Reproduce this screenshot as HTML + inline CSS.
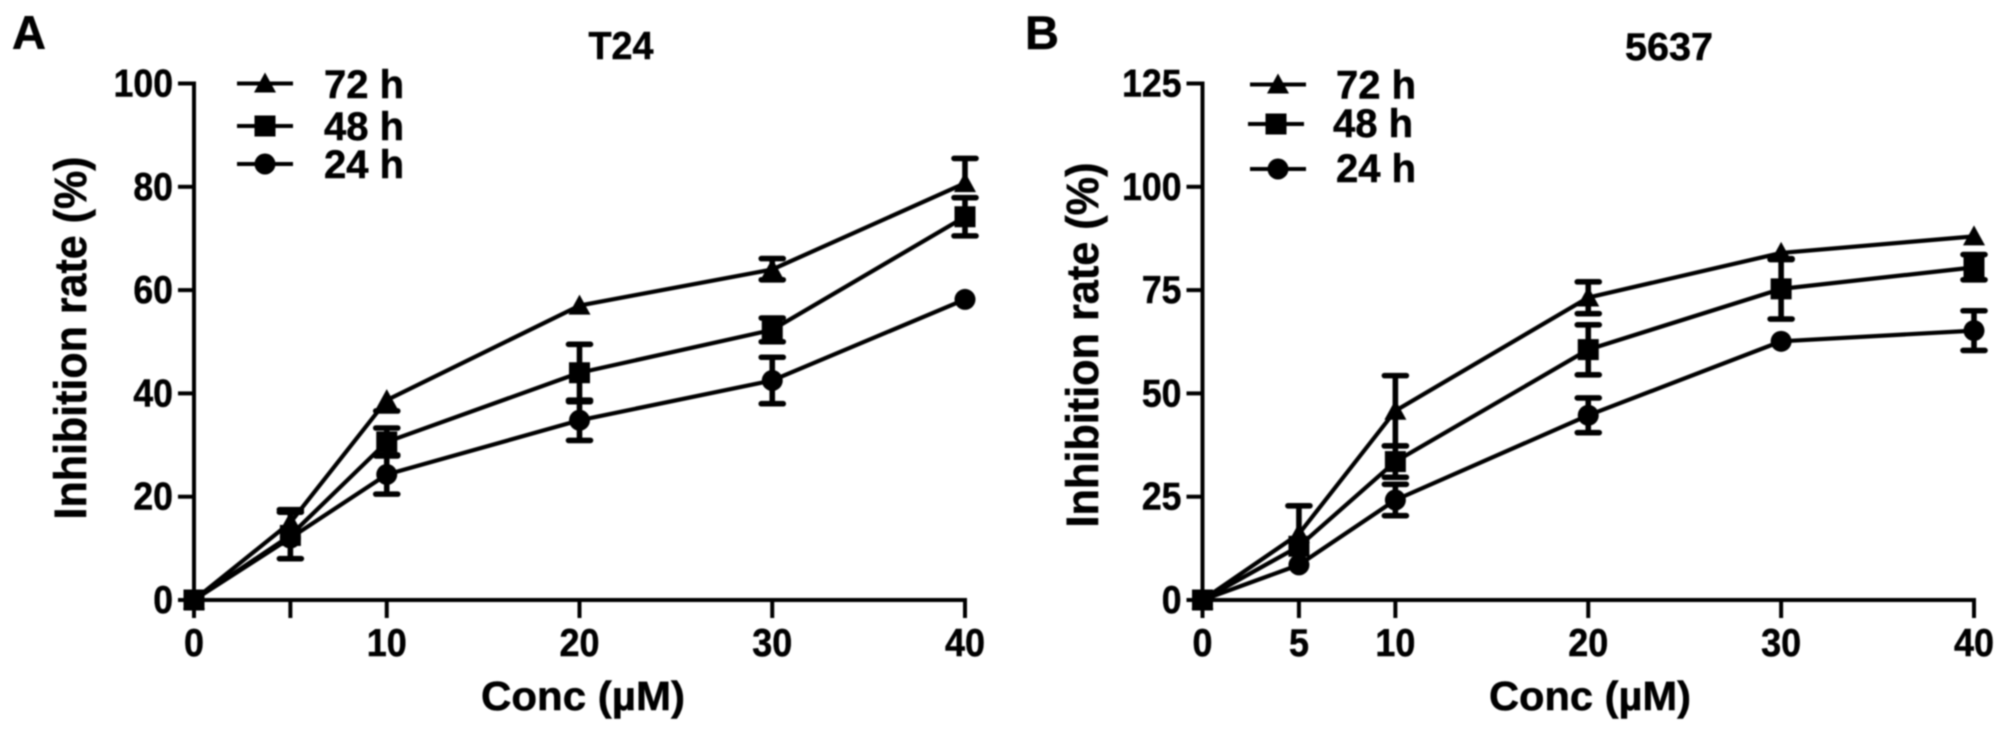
<!DOCTYPE html>
<html lang="en">
<head>
<meta charset="utf-8">
<title>Inhibition rate charts: T24 and 5637</title>
<style>
html,body{margin:0;padding:0;background:#fff;}
svg{display:block;}
text{font-family:"Liberation Sans",Arial,sans-serif;font-weight:700;fill:#000;stroke:#000;stroke-width:0.5px;}
</style>
</head>
<body>
<svg id="figure" xmlns="http://www.w3.org/2000/svg" width="2008" height="735" viewBox="0 0 2008 735">
<defs><filter id="soft" x="-2%" y="-2%" width="104%" height="104%"><feGaussianBlur stdDeviation="0.7"/></filter></defs>
<rect width="2008" height="735" fill="#fff"/>
<g id="root" filter="url(#soft)">
<text x="12" y="49" font-size="47">A</text>
<text x="1025" y="49" font-size="47">B</text>
<text x="621" y="59" font-size="39" text-anchor="middle" textLength="65" lengthAdjust="spacingAndGlyphs">T24</text>
<text x="1669" y="60" font-size="39" text-anchor="middle" textLength="88" lengthAdjust="spacingAndGlyphs">5637</text>
<text x="583" y="710" font-size="41" text-anchor="middle" textLength="204" lengthAdjust="spacingAndGlyphs">Conc (µM)</text>
<text x="1590" y="710" font-size="41" text-anchor="middle" textLength="202" lengthAdjust="spacingAndGlyphs">Conc (µM)</text>
<text transform="translate(86 338) rotate(-90)" font-size="45" text-anchor="middle" textLength="363" lengthAdjust="spacingAndGlyphs">Inhibition rate (%)</text>
<text transform="translate(1098 345) rotate(-90)" font-size="45" text-anchor="middle" textLength="365" lengthAdjust="spacingAndGlyphs">Inhibition rate (%)</text>
</g>
</svg>
<script>
const concentrations = [0, 5, 10, 20, 30, 40];
const seriesLabels = ['72 h', '48 h', '24 h'];
const seriesMarkers = ['triangle', 'square', 'circle'];

const xTicksA = [0, 5, 10, 20, 30, 40];
const xTickLabelsA = ['0', '', '10', '20', '30', '40'];
const yTicksA = [0, 20, 40, 60, 80, 100];
const t24Rate72 = [0, 15, 38.7, 57, 64, 80.7];
const t24ErrUp72 = [0, 2.5, 0, 0, 2.1, 4.8];
const t24ErrDown72 = [0, 0, 2.1, 0, 2, 0];
const t24Rate48 = [0, 12.5, 30.6, 44, 52.3, 74.2];
const t24ErrUp48 = [0, 4.5, 2.7, 5.5, 2.3, 3.7];
const t24ErrDown48 = [0, 4.5, 2.7, 5.6, 2.3, 3.7];
const t24Rate24 = [0, 12, 24.3, 34.8, 42.5, 58.2];
const t24ErrUp24 = [0, 0, 3.8, 3.9, 4.5, 0];
const t24ErrDown24 = [0, 0, 3.8, 3.9, 4.5, 0];

const xTicksB = [0, 5, 10, 20, 30, 40];
const xTickLabelsB = ['0', '5', '10', '20', '30', '40'];
const yTicksB = [0, 25, 50, 75, 100, 125];
const t5637Rate72 = [0, 16, 45.8, 73.2, 84, 88];
const t5637ErrUp72 = [0, 6.8, 8.5, 3.8, 0, 0];
const t5637ErrDown72 = [0, 0, 8.5, 3.9, 1.6, 0];
const t5637Rate48 = [0, 13, 33.5, 60.6, 75.3, 80.5];
const t5637ErrUp48 = [0, 0, 3.8, 6, 7.3, 3.1];
const t5637ErrDown48 = [0, 0, 3.8, 6.1, 7.3, 3];
const t5637Rate24 = [0, 8.5, 24.2, 44.7, 62.6, 65.2];
const t5637ErrUp24 = [0, 0, 3.8, 4.2, 0, 4.8];
const t5637ErrDown24 = [0, 0, 3.8, 4.2, 0, 4.8];

const NS = 'http://www.w3.org/2000/svg';
const root = document.getElementById('root');

function make(tag, parent, attrs) {
  const el = document.createElementNS(NS, tag);
  for (const k in attrs) el.setAttribute(k, attrs[k]);
  parent.appendChild(el);
  return el;
}

function seg(parent, x1, y1, x2, y2, w) {
  return make('line', parent, {x1: x1, y1: y1, x2: x2, y2: y2, stroke: '#000', 'stroke-width': w});
}

function drawMarker(parent, kind, x, y) {
  let m;
  if (kind === 'triangle') {
    m = make('polygon', parent, {points: (x - 11) + ',' + (y + 9) + ' ' + x + ',' + (y - 11) + ' ' + (x + 11) + ',' + (y + 9), fill: '#000'});
  } else if (kind === 'square') {
    m = make('rect', parent, {x: x - 10.5, y: y - 10.5, width: 21, height: 21, fill: '#000'});
  } else {
    m = make('circle', parent, {cx: x, cy: y, r: 10.5, fill: '#000'});
  }
  
  
}

function drawPanel(p) {
  const sx = v => p.x0 + (v / p.xMax) * (p.x1 - p.x0);
  const sy = v => p.y0 - (v / p.yMax) * (p.y0 - p.y1);

  const axes = make('g', root, {});
  
  
  seg(axes, p.x0, p.y1 - 2, p.x0, p.y0 + 2, 4);
  seg(axes, p.x0 - 2, p.y0, p.x1 + 2, p.y0, 4);

  p.yTicks.forEach(function (v) {
    const t = seg(axes, p.x0 - 16, sy(v), p.x0, sy(v), 4);
    
    
    const text = String(v);
    const label = make('text', axes, {x: p.x0 - 21, y: sy(v) + 13, 'font-size': 39, 'text-anchor': 'end', textLength: text.length * 19.8, lengthAdjust: 'spacingAndGlyphs'});
    
    
    label.textContent = text;
  });
  p.xTicks.forEach(function (v, i) {
    const t = seg(axes, sx(v), p.y0, sx(v), p.y0 + 18, 4);
    
    
    const text = p.xTickLabels[i];
    if (!text) return;
    const label = make('text', axes, {x: sx(v), y: 656, 'font-size': 39, 'text-anchor': 'middle', textLength: text.length * 20, lengthAdjust: 'spacingAndGlyphs'});
    
    
    label.textContent = text;
  });

  p.series.forEach(function (s, si) {
    const g = make('g', root, {});
    
    
    const pts = s.rate.map((r, i) => sx(concentrations[i]) + ',' + sy(r)).join(' ');
    const line = make('polyline', g, {points: pts, fill: 'none', stroke: '#000', 'stroke-width': 4.2, 'stroke-linejoin': 'round'});
    
    
    s.rate.forEach(function (r, i) {
      const x = sx(concentrations[i]);
      let d = '';
      if (s.up[i] > 0) {
        const hi = sy(r + s.up[i]);
        d += 'M' + x + ' ' + sy(r) + 'V' + hi + 'M' + (x - 11) + ' ' + hi + 'H' + (x + 11);
      }
      if (s.down[i] > 0) {
        const lo = sy(r - s.down[i]);
        d += 'M' + x + ' ' + sy(r) + 'V' + lo + 'M' + (x - 11) + ' ' + lo + 'H' + (x + 11);
      }
      if (d) {
        const bar = make('path', g, {d: d, fill: 'none', stroke: '#000', 'stroke-width': 5.6, 'stroke-linecap': 'round'});
        
        
      }
      drawMarker(g, seriesMarkers[si], x, sy(r));
    });
  });

  p.legend.forEach(function (row, i) {
    const g = make('g', root, {});
    
    
    seg(g, row.x1, row.lineY, row.x2, row.lineY, 4);
    drawMarker(g, seriesMarkers[i], (row.x1 + row.x2) / 2, row.lineY);
    const label = make('text', g, {x: row.tx, y: row.baseY, 'font-size': 40, textLength: 80, lengthAdjust: 'spacingAndGlyphs'});
    
    
    label.textContent = seriesLabels[i];
  });
}

drawPanel({
  id: 't24', x0: 194, x1: 965, y0: 600, y1: 83.5, xMax: 40, yMax: 100,
  xTicks: xTicksA, xTickLabels: xTickLabelsA, yTicks: yTicksA,
  series: [
    {rate: t24Rate72, up: t24ErrUp72, down: t24ErrDown72},
    {rate: t24Rate48, up: t24ErrUp48, down: t24ErrDown48},
    {rate: t24Rate24, up: t24ErrUp24, down: t24ErrDown24}
  ],
  legend: [
    {x1: 237, x2: 293, lineY: 83.5, tx: 324, baseY: 98},
    {x1: 237, x2: 293, lineY: 126, tx: 324, baseY: 140},
    {x1: 237, x2: 293, lineY: 164, tx: 324, baseY: 178}
  ]
});

drawPanel({
  id: '5637', x0: 1202.5, x1: 1974, y0: 600, y1: 83.5, xMax: 40, yMax: 125,
  xTicks: xTicksB, xTickLabels: xTickLabelsB, yTicks: yTicksB,
  series: [
    {rate: t5637Rate72, up: t5637ErrUp72, down: t5637ErrDown72},
    {rate: t5637Rate48, up: t5637ErrUp48, down: t5637ErrDown48},
    {rate: t5637Rate24, up: t5637ErrUp24, down: t5637ErrDown24}
  ],
  legend: [
    {x1: 1250, x2: 1306, lineY: 84.5, tx: 1336, baseY: 98.5},
    {x1: 1248, x2: 1304, lineY: 124, tx: 1333, baseY: 137},
    {x1: 1250, x2: 1306, lineY: 169, tx: 1336, baseY: 182}
  ]
});
</script>
</body>
</html>
